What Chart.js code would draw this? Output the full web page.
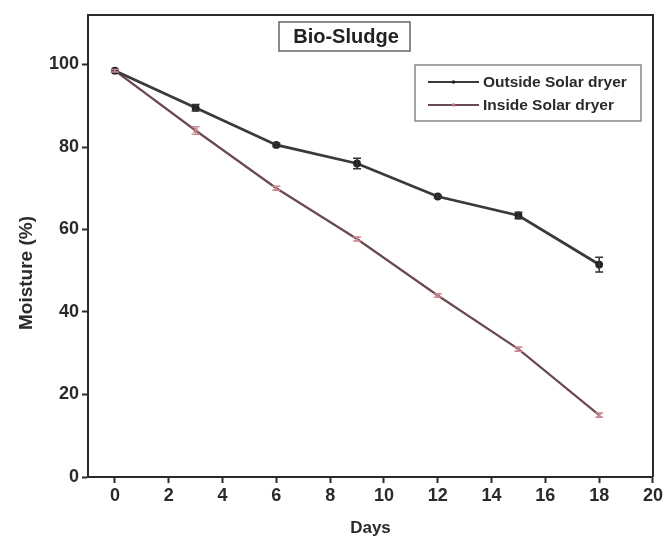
<!DOCTYPE html>
<html>
<head>
<meta charset="utf-8">
<script src="https://cdn.jsdelivr.net/npm/chart.js@4.4.1/dist/chart.umd.min.js"></script>
<style>
    html, body { margin: 0; padding: 0; background: #fff; }
    #wrap { width: 665px; height: 539px; }
</style>
</head>
<body>
<div id="wrap"><canvas id="chart" width="665" height="539"></canvas></div>
<script>
// values
const days = [0, 3, 6, 9, 12, 15, 18];
const outsideMoisture = [98.5, 89.5, 80.5, 76.0, 68.0, 63.4, 51.5];
const outsideError = [0.3, 0.8, 0.4, 1.3, 0.3, 0.8, 1.8];
const insideMoisture = [98.5, 84.0, 70.0, 57.7, 44.0, 31.0, 15.0];
const insideError = [0.3, 0.9, 0.5, 0.5, 0.4, 0.5, 0.5];
const xTicks = [0, 2, 4, 6, 8, 10, 12, 14, 16, 18, 20];
const yTicks = [0, 20, 40, 60, 80, 100];

const FONT = "'Liberation Sans', Arial, sans-serif";
const AXIS_COLOR = "#2b2b2b";
const TEXT_COLOR = "#2a2a2a";

const toPoints = (ys) => days.map((d, i) => ({ x: d, y: ys[i] }));

// error bars, drawn with the chart's own scales
const errorBarPlugin = {
    id: "errorBars",
    afterDatasetsDraw(chart) {
        const ctx = chart.ctx;
        const xs = chart.scales.x;
        const ys = chart.scales.y;
        chart.data.datasets.forEach((ds) => {
            if (!ds.errors) {
                return;
            }
            ctx.save();
            ctx.strokeStyle = ds.errorColor;
            ctx.lineWidth = 1.5;
            ds.data.forEach((p, i) => {
                const e = ds.errors[i];
                const px = xs.getPixelForValue(p.x);
                const top = ys.getPixelForValue(p.y + e);
                const bot = ys.getPixelForValue(p.y - e);
                ctx.beginPath();
                ctx.moveTo(px, top);
                ctx.lineTo(px, bot);
                ctx.moveTo(px - 4, top);
                ctx.lineTo(px + 4, top);
                ctx.moveTo(px - 4, bot);
                ctx.lineTo(px + 4, bot);
                ctx.stroke();
            });
            ctx.restore();
        });
    }
};

// closed frame, y title, title box and legend box inside the plot
const framePlugin = {
    id: "frame",
    afterDraw(chart) {
        const ctx = chart.ctx;
        const a = chart.chartArea;
        ctx.save();
        ctx.strokeStyle = AXIS_COLOR;
        ctx.lineWidth = 2;
        ctx.beginPath();
        ctx.moveTo(a.left, a.top);
        ctx.lineTo(a.right, a.top);
        ctx.lineTo(a.right, a.bottom);
        ctx.stroke();

        // y axis title (sits a little below the plot centre in the original)
        ctx.save();
        ctx.translate(27, 273);
        ctx.rotate(-Math.PI / 2);
        ctx.fillStyle = TEXT_COLOR;
        ctx.font = "bold 19px " + FONT;
        ctx.textAlign = "center";
        ctx.textBaseline = "middle";
        ctx.fillText("Moisture (%)", 0, 0);
        ctx.restore();

        // title box
        ctx.lineWidth = 1.5;
        ctx.strokeStyle = "#666";
        ctx.strokeRect(279, 22, 131, 29);
        ctx.fillStyle = "#222";
        ctx.font = "bold 20px " + FONT;
        ctx.textAlign = "center";
        ctx.textBaseline = "middle";
        ctx.fillText("Bio-Sludge", 346, 37);

        // legend box
        ctx.strokeStyle = "#888";
        ctx.strokeRect(415, 65, 226, 56);
        ctx.font = "bold 15.5px " + FONT;
        ctx.textAlign = "left";
        chart.data.datasets.forEach((ds, i) => {
            const y = 82 + i * 23;
            ctx.strokeStyle = ds.borderColor;
            ctx.lineWidth = 2;
            ctx.beginPath();
            ctx.moveTo(428, y);
            ctx.lineTo(479, y);
            ctx.stroke();
            ctx.fillStyle = ds.pointBorderColor;
            ctx.beginPath();
            ctx.arc(453.5, y, 1.8, 0, Math.PI * 2);
            ctx.fill();
            ctx.fillStyle = TEXT_COLOR;
            ctx.fillText(ds.label, 483, y + 1);
        });
        ctx.restore();
    }
};

new Chart(document.getElementById("chart"), {
    type: "line",
    data: {
        datasets: [
            {
                label: "Outside Solar dryer",
                data: toPoints(outsideMoisture),
                errors: outsideError,
                errorColor: "#333",
                borderColor: "#3a3a3a",
                borderWidth: 2.8,
                pointRadius: 2.5,
                pointBackgroundColor: "#222",
                pointBorderColor: "#222",
                tension: 0
            },
            {
                label: "Inside Solar dryer",
                data: toPoints(insideMoisture),
                errors: insideError,
                errorColor: "#c98a92",
                borderColor: "#6a4a50",
                borderWidth: 2.2,
                pointStyle: "crossRot",
                pointRadius: 3,
                pointBorderColor: "#c0707c",
                pointBorderWidth: 1.2,
                tension: 0
            }
        ]
    },
    options: {
        responsive: false,
        animation: false,
        layout: { padding: { top: 15, right: 3, left: 10, bottom: 0 } },
        plugins: {
            legend: { display: false },
            tooltip: { enabled: false }
        },
        scales: {
            x: {
                type: "linear",
                min: -1,
                max: 20,
                afterBuildTicks: (s) => {
                    s.ticks = xTicks.map((v) => ({ value: v }));
                },
                afterFit: (s) => {
                    s.height = 62;
                },
                grid: {
                    drawOnChartArea: false,
                    drawTicks: true,
                    tickLength: 6,
                    tickWidth: 2,
                    color: AXIS_COLOR
                },
                border: { display: true, width: 2, color: AXIS_COLOR },
                ticks: {
                    color: TEXT_COLOR,
                    padding: 2,
                    maxRotation: 0,
                    font: { family: FONT, size: 18, weight: "bold" }
                },
                title: {
                    display: true,
                    text: "Days",
                    color: TEXT_COLOR,
                    padding: { top: 0, bottom: 0 },
                    font: { family: FONT, size: 17, weight: "bold" }
                }
            },
            y: {
                min: 0,
                max: 112,
                afterBuildTicks: (s) => {
                    s.ticks = yTicks.map((v) => ({ value: v }));
                },
                afterFit: (s) => {
                    s.width = 78;
                },
                grid: {
                    drawOnChartArea: false,
                    drawTicks: true,
                    tickLength: 6,
                    tickWidth: 2,
                    color: AXIS_COLOR
                },
                border: { display: true, width: 2, color: AXIS_COLOR },
                ticks: {
                    color: TEXT_COLOR,
                    padding: 3,
                    font: { family: FONT, size: 18, weight: "bold" }
                },
                title: { display: false }
            }
        }
    },
    plugins: [errorBarPlugin, framePlugin]
});
</script>
</body>
</html>
